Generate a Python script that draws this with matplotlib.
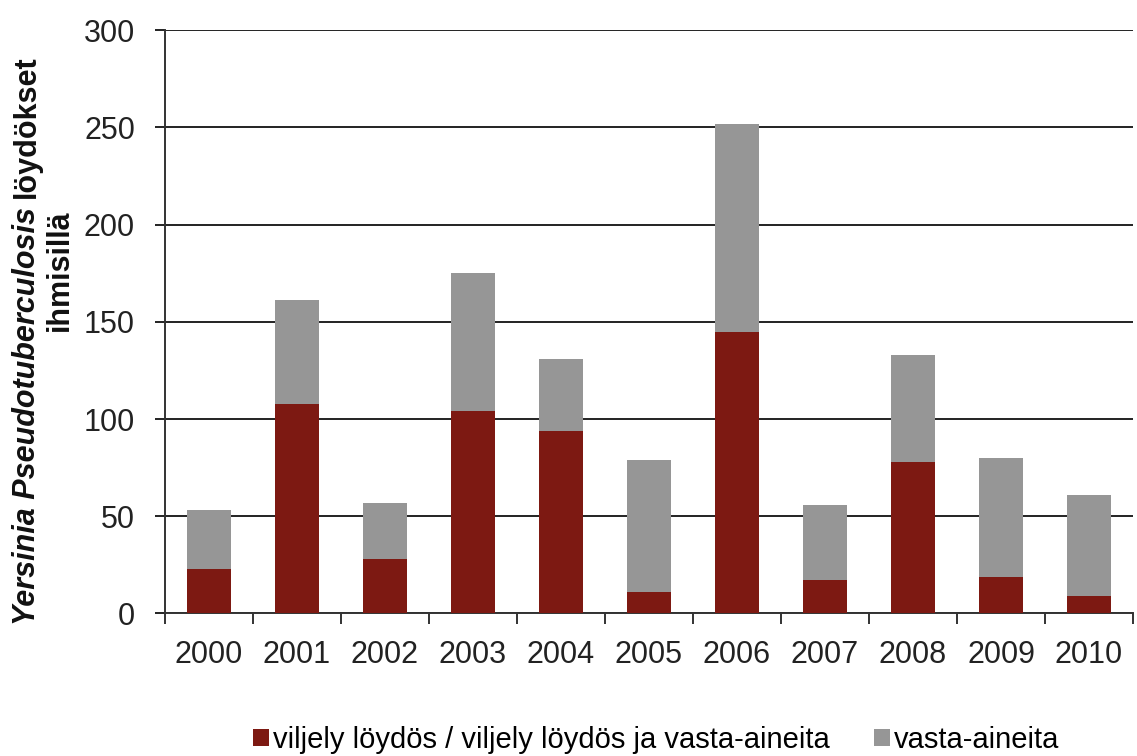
import numpy as np
import matplotlib
matplotlib.use('Agg')
import matplotlib.pyplot as plt

plt.rcParams['font.family'] = ['Liberation Sans', 'DejaVu Sans']

years = ['2000', '2001', '2002', '2003', '2004', '2005', '2006', '2007', '2008', '2009', '2010']
viljely = [23, 108, 28, 104, 94, 11, 145, 17, 78, 19, 9]
vasta = [30, 53, 29, 71, 37, 68, 107, 39, 55, 61, 52]

red = '#7d1912'
grey = '#969696'

fig = plt.figure(figsize=(11.37, 7.56), dpi=100)
ax = fig.add_axes([0.1451, 0.1885, 0.8514, 0.7715])

x = np.arange(len(years))
b1 = ax.bar(x, viljely, width=0.5, color=red, label='viljely löydös / viljely löydös ja vasta-aineita', zorder=3)
b2 = ax.bar(x, vasta, width=0.5, bottom=viljely, color=grey, label='vasta-aineita', zorder=3)

ax.set_xlim(-0.5, len(years) - 0.5)
ax.set_ylim(0, 300)
ax.set_yticks(range(0, 301, 50))
ax.yaxis.grid(True, color='#222222', linewidth=1.4, zorder=0)
ax.set_axisbelow(True)

ax.set_xticks(x)
ax.set_xticklabels(years)
ax.set_xticks(np.arange(-0.5, len(years)), minor=True)
ax.tick_params(axis='x', which='major', length=0, pad=19, labelsize=22, colors='#222222')
ax.tick_params(axis='x', which='minor', length=8, width=1.4, direction='out', color='#333333')
ax.tick_params(axis='y', length=7.5, width=1.4, pad=14, labelsize=22, colors='#222222')

for s in ['top', 'right']:
    ax.spines[s].set_visible(False)
for s in ['left', 'bottom']:
    ax.spines[s].set_color('#333333')
    ax.spines[s].set_linewidth(1.4)

# y label: italic species name + bold text, second line below
H = fig.bbox.height
lab_size = 22
r = fig.canvas.get_renderer()
t1 = fig.text(35 / 1137, 0.5, 'Yersinia Pseudotuberculosis ', rotation=90,
              rotation_mode='anchor', ha='left', va='baseline',
              fontsize=lab_size, fontweight='bold', fontstyle='italic', color='#111111')
t2 = fig.text(35 / 1137, 0.5, 'löydökset', rotation=90,
              rotation_mode='anchor', ha='left', va='baseline',
              fontsize=lab_size, fontweight='bold', color='#111111')
fig.canvas.draw()
h1 = t1.get_window_extent(r).height
h2 = t2.get_window_extent(r).height
center = H - 340
start = center - (h1 + h2) / 2
t1.set_y(start / H)
t2.set_y((start + h1) / H)
fig.text(68 / 1137, 1 - 270 / 756, 'ihmisillä', rotation=90,
         rotation_mode='anchor', ha='center', va='baseline',
         fontsize=lab_size, fontweight='bold', color='#111111')

fig.legend(handles=[b1, b2], loc='center', bbox_to_anchor=(0.577, 1 - 740 / 756),
           ncol=2, frameon=False, fontsize=21, handlelength=0.55, handleheight=0.55,
           handletextpad=0.15, columnspacing=1.5, borderaxespad=0)

fig.savefig('out.png', dpi=100)
